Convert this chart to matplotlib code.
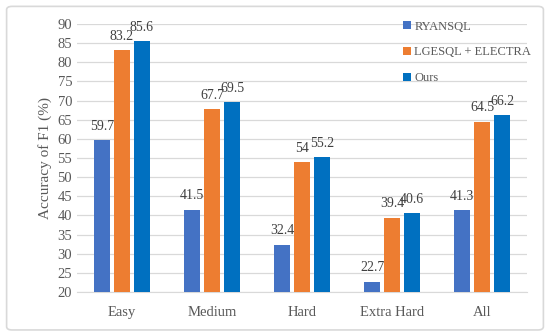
import numpy as np
import matplotlib
matplotlib.use("Agg")
import matplotlib.pyplot as plt
from matplotlib.patches import FancyBboxPatch

categories = ["Easy", "Medium", "Hard", "Extra Hard", "All"]
series_names = ["RYANSQL", "LGESQL + ELECTRA", "Ours"]
ryansql = [59.7, 41.5, 32.4, 22.7, 41.3]
lgesql = [83.2, 67.7, 54, 39.4, 64.5]
ours = [85.6, 69.5, 55.2, 40.6, 66.2]
colors = ["#4472C4", "#ED7D31", "#0070C0"]

plt.rcParams['font.family'] = ['Liberation Serif', 'DejaVu Serif']

fig = plt.figure(figsize=(5.5, 3.36), dpi=100)
# outer frame
fig.patches.append(FancyBboxPatch((0.012, 0.018), 0.976, 0.963, boxstyle="round,pad=0,rounding_size=0.01",
                                  transform=fig.transFigure, fill=False, edgecolor="#d9d9d9", linewidth=1.2))
ax = fig.add_axes([77/550, 1-292/336, 450/550, 268/336])

x = np.arange(len(categories))
w = 0.172
step = 0.222
for i, (vals, name) in enumerate(zip([ryansql, lgesql, ours], series_names)):
    pos = x + (i - 1) * step
    bars = ax.bar(pos, vals, width=w, color=colors[i], label=name, zorder=3)
    for p, v in zip(pos, vals):
        ax.text(p, v + 1.9, f"{v:g}", ha="center", va="bottom", fontsize=10, color="#404040")

ax.set_xlim(-0.5, len(categories) - 0.5)
ax.set_ylim(20, 90)
ax.set_yticks(range(20, 91, 5))
ax.set_xticks(x)
ax.set_xticklabels(categories)
ax.tick_params(axis="both", length=0, labelsize=10.5, colors="#595959")
ax.tick_params(axis="x", pad=10)
ax.grid(axis="y", color="#d9d9d9", linewidth=0.9, zorder=0)
for s in ["top", "right", "left"]:
    ax.spines[s].set_visible(False)
ax.spines["bottom"].set_color("#d9d9d9")
ax.set_ylabel("Accuracy of F1 (%)", fontsize=11, color="#595959", labelpad=4)

leg = ax.legend(loc="upper left", bbox_to_anchor=(0.70, 1.055), frameon=False, fontsize=9,
                handlelength=0.6, handleheight=0.6, handletextpad=0.3, labelspacing=1.1,
                labelcolor="#595959")

fig.savefig("out.png", dpi=100)
